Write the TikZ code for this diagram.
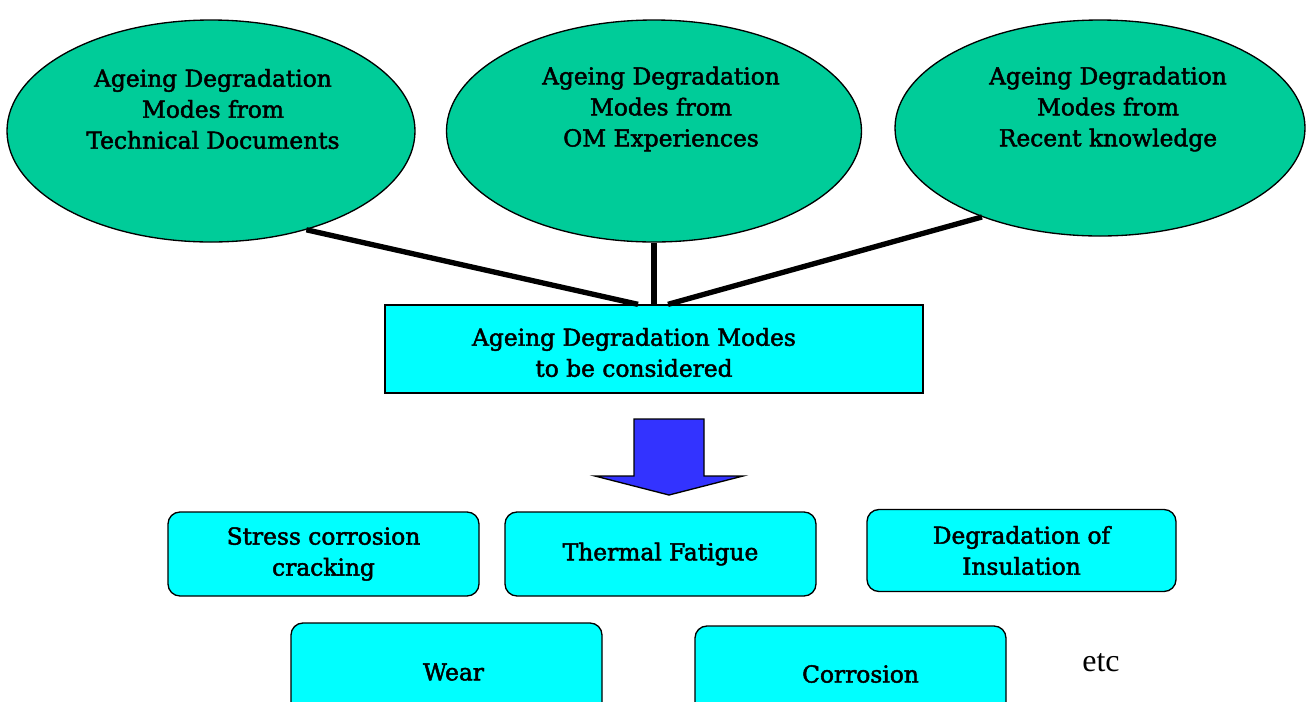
\documentclass[tikz,border=0pt]{standalone}
\usepackage{fontspec}
\setmainfont{DejaVu Serif}[FakeBold=2]
\newfontfamily\etcfont{Liberation Serif}
\usetikzlibrary{shapes.geometric}
\definecolor{modegreen}{RGB}{0,204,153}
\definecolor{modecyan}{RGB}{0,255,255}
\definecolor{arrowblue}{RGB}{51,51,255}
\tikzset{every picture/.style={line width=1pt}}
\tikzset{
  source/.style={ellipse, draw, fill=modegreen, inner sep=0pt},
  modebox/.style={draw, fill=modecyan, rounded corners=9pt, minimum width=233.25pt, minimum height=63pt, inner sep=0pt, align=center, font=\fontsize{17.5}{23.25}\selectfont},
  txt/.style={inner sep=0pt, align=center, font=\fontsize{17.5}{23.25}\selectfont},
  link/.style={line width=4pt}
}

\begin{document}
\begin{tikzpicture}[x=0.75pt,y=0.75pt,yscale=-1,xscale=1]
\useasboundingbox (0,0) rectangle (1308,701);
\clip (0,0) rectangle (1308,701);

%Shape: Ellipse [techdoc]
\node[source, minimum width=306pt, minimum height=166.5pt] (techdoc) at (211,131) {};
%Shape: Ellipse [omexp]
\node[source, minimum width=311.25pt, minimum height=166.5pt] (omexp) at (654,131) {};
%Shape: Ellipse [recent]
\node[source, minimum width=307.5pt, minimum height=162pt] (recent) at (1100,128) {};

% Text Node
\node[txt] (techdoctext) at (213,109) {Ageing Degradation\\Modes from\\Technical Documents};
% Text Node
\node[txt] (omexptext) at (661,109) {Ageing Degradation\\Modes from\\OM Experiences};
% Text Node
\node[txt] (recenttext) at (1108,109) {Ageing Degradation\\Modes from\\Recent knowledge};

%Shape: Rectangle [consider]
\node[draw, fill=modecyan, minimum width=403.5pt, minimum height=66pt, inner sep=0pt] (consider) at (654,349) {};
% Text Node
\node[txt] (considertext) at (634,352.5) {Ageing Degradation Modes\\to be considered};

%Straight Lines
\draw[link] (techdoc.-46) -- ([xshift=-12pt]consider.north);
\draw[link] (omexp.south) -- (consider.north);
\draw[link] (recent.217) -- ([xshift=10.5pt]consider.north);

%Shape: Down Arrow
\draw[fill=arrowblue] (634,419) -- (704,419) -- (704,476) -- (743,476) -- (669,495) -- (595,476) -- (634,476) -- cycle;

%Shape: Rounded Rectangles
\node[modebox] (scc) at (323.5,554) {Stress corrosion\\cracking};
\node[modebox] (fatigue) at (660.5,554) {Thermal Fatigue};
\node[modebox, minimum width=231.75pt, minimum height=61.5pt] (insulation) at (1021.5,550.5) {Degradation of\\Insulation};
\node[modebox, minimum height=73.5pt] (wear) at (446.5,672) {\hspace*{10.5pt}Wear};
\node[modebox, minimum height=72pt] (corrosion) at (850.5,674) {\hspace*{15pt}Corrosion};

% Text Node
\node[inner sep=0pt, font=\etcfont\fontsize{24}{28}\selectfont] (etc) at (1101,663) {etc};

\end{tikzpicture}
\end{document}
